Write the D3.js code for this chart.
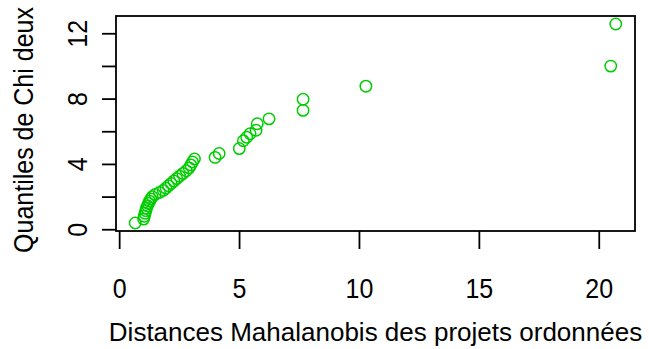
<!DOCTYPE html>
<html>
<head>
<meta charset="utf-8">
<script src="https://cdn.jsdelivr.net/npm/d3@7"></script>
<style>
  html, body { margin: 0; padding: 0; background: #fff; }
  svg { display: block; }
  text { font-family: "Liberation Sans", Arial, Helvetica, sans-serif; fill: #000; }
</style>
</head>
<body>
<svg id="chart" width="649" height="349"></svg>
<script>
// Ordered Mahalanobis distances (x) and chi-square quantiles (y)
const distances = [
  0.67, 1.02, 1.05, 1.08, 1.11, 1.14, 1.18, 1.22, 1.27, 1.32,
  1.38, 1.50, 1.68, 1.84, 1.95, 2.06, 2.17, 2.28, 2.40, 2.52,
  2.66, 2.80, 2.92, 2.99, 3.06, 3.14, 4.00, 4.17, 5.01, 5.18,
  5.32, 5.46, 5.71, 5.76, 6.25, 7.67, 7.67, 10.29, 20.50, 20.71
];
const quantiles = [
  0.38, 0.62, 0.80, 0.98, 1.14, 1.29, 1.44, 1.58, 1.72, 1.86,
  1.99, 2.13, 2.25, 2.38, 2.52, 2.66, 2.80, 2.95, 3.10, 3.25,
  3.42, 3.58, 3.76, 3.94, 4.12, 4.30, 4.40, 4.64, 4.94, 5.42,
  5.63, 5.85, 6.06, 6.46, 6.76, 7.28, 7.96, 8.76, 9.99, 12.57
];
const xTicks = [0, 5, 10, 15, 20];
const yTicks = [0, 2, 4, 6, 8, 10, 12];
const yLabelTicks = [0, 4, 8, 12];
const xTitle = "Distances Mahalanobis des projets ordonnées";
const yTitle = "Quantiles de Chi deux";

const box = { left: 116, right: 635, top: 16, bottom: 231 };

function rRange(vals) {
  const mn = d3.min(vals), mx = d3.max(vals), pad = (mx - mn) * 0.04;
  return [mn - pad, mx + pad];
}

const x = d3.scaleLinear().domain(rRange(distances)).range([box.left, box.right]);
const y = d3.scaleLinear().domain(rRange(quantiles)).range([box.bottom, box.top]);

const svg = d3.select("#chart");
const data = distances.map((d, i) => ({ x: d, y: quantiles[i] }));

// points
svg.append("g")
  .selectAll("circle")
  .data(data)
  .join("circle")
  .attr("cx", d => x(d.x))
  .attr("cy", d => y(d.y))
  .attr("r", 5.7)
  .attr("fill", "none")
  .attr("stroke", "#00cd00")
  .attr("stroke-width", 1.5);

// box
svg.append("rect")
  .attr("x", box.left).attr("y", box.top)
  .attr("width", box.right - box.left).attr("height", box.bottom - box.top)
  .attr("fill", "none").attr("stroke", "#000").attr("stroke-width", 1.8);

// x axis
const gx = svg.append("g")
  .attr("transform", `translate(0,${box.bottom})`)
  .call(d3.axisBottom(x).tickValues(xTicks).tickSize(18).tickSizeOuter(0).tickFormat(d3.format("d")));
gx.select(".domain").remove();
gx.selectAll(".tick line").attr("stroke", "#000").attr("stroke-width", 1.8);
gx.selectAll(".tick text")
  .attr("y", 0).attr("dy", 0)
  .attr("transform", "translate(0,67) scale(1,1.1)")
  .style("font-size", "25px");

// y axis
const gy = svg.append("g")
  .attr("transform", `translate(${box.left},0)`)
  .call(d3.axisLeft(y).tickValues(yTicks).tickSize(14).tickSizeOuter(0)
    .tickFormat(d => yLabelTicks.includes(d) ? String(d) : ""));
gy.select(".domain").remove();
gy.selectAll(".tick line").attr("stroke", "#000").attr("stroke-width", 1.8);
gy.selectAll(".tick text")
  .attr("x", 0).attr("y", 0).attr("dy", 0)
  .attr("text-anchor", "middle")
  .attr("transform", "translate(-29,0) rotate(-90) scale(1,1.1)")
  .style("font-size", "25px");

// titles
svg.append("text")
  .attr("x", (box.left + box.right) / 2)
  .attr("y", 341)
  .attr("text-anchor", "middle")
  .style("font-size", "26px")
  .text(xTitle);

svg.append("text")
  .attr("transform", "translate(33,130) rotate(-90) scale(1,1.1)")
  .attr("text-anchor", "middle")
  .style("font-size", "25px")
  .text(yTitle);
</script>
</body>
</html>
